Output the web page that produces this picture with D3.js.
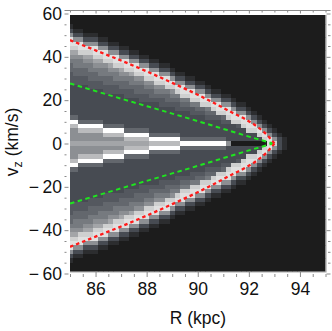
<!DOCTYPE html>
<html><head><meta charset="utf-8">
<script src="https://cdn.jsdelivr.net/npm/d3@7"></script>
<style>
html,body{margin:0;padding:0;background:#fff;}
svg{display:block;}
text{font-family:"Liberation Sans",Arial,sans-serif;}
</style>
</head><body>
<svg id="chart" width="332" height="331"></svg>
<script>
// ---------------- data ----------------
const xDomain = [85, 95];
const yDomain = [-60, 60];
const xMajorTicks = [86, 88, 90, 92, 94];
const yMajorTicks = [-60, -40, -20, 0, 20, 40, 60];
const yTickLabels = ["\u2212\u200960", "\u2212\u200940", "\u2212\u200920", "0", "20", "40", "60"];

// heat-map grid: column centres R (kpc), row centres vz (km/s)
const gridR = d3.range(0, 51).map(i => +(85 + 0.2 * i).toFixed(1));
const gridVUpper = d3.range(60, -1, -2);   // 60 ... 0
// grey level per cell, run-length coded per row (vz = 60 ... 0);
// cells not listed are background ('0'); the picture is mirror-symmetric about vz = 0
const rowsUpperRLE = [
  "", "", "",
  "1:1",
  "3:1 1:2",
  "7:1 3:2 1:3",
  "b:1 7:2 3:3 1:2",
  "b:3 7:3 3:2 1:2",
  "a:2 b:4 7:2 3:2 1:2",
  "8:2 a:3 b:3 7:2 3:2 1:2",
  "7:3 8:2 a:2 b:3 7:2 3:2 1:2",
  "6:3 7:2 8:2 a:2 b:3 7:2 3:2 1:2",
  "5:1 6:4 7:3 8:1 a:2 b:3 7:2 3:2 1:2",
  "5:4 6:4 7:2 8:1 a:2 b:3 7:2 3:2 1:1",
  "4:1 5:5 6:4 7:2 8:1 a:2 b:3 7:2 3:1 1:2",
  "4:4 5:5 6:4 7:2 a:2 b:3 7:1 3:2 1:2",
  "4:7 5:5 6:3 7:2 a:2 b:2 7:2 3:2 1:2",
  "3:4 4:6 5:5 6:2 7:2 a:2 b:2 7:2 3:2 1:1",
  "3:7 4:6 5:4 6:3 7:1 a:1 b:3 7:2 3:1 1:2",
  "3:11 4:5 5:4 6:2 a:2 b:3 7:1 3:2 1:2",
  "3:14 4:5 5:3 6:2 a:2 b:2 7:2 3:2 1:1",
  "3:18 4:4 5:2 6:2 a:2 b:2 7:2 3:1 1:2",
  "3:21 4:4 5:2 6:1 a:1 b:3 7:1 3:2 1:1",
  "3:24 4:3 5:2 a:2 b:2 7:2 3:1 1:1",
  "5:2 3:25 4:3 5:1 a:1 b:3 7:1 3:1 1:1",
  "d:2 5:5 3:23 4:2 a:2 b:2 7:1 3:1 1:1",
  "9:2 d:5 5:4 3:22 4:1 a:1 b:2 7:1 3:1 1:1",
  "7:2 9:5 d:4 5:5 3:19 a:2 b:1 7:1 3:1 1:1",
  "7:7 9:4 d:5 5:6 3:15 a:1 b:1 7:1 3:1 1:1",
  "7:11 9:5 d:6 5:9 3:7 a:1 b:1 7:1 3:1 1:1",
  "8:16 9:6 d:9 7:1 0:7 b:1 a:1 3:1 1:1"
];
const levelKeys   = ["0","1","2","3","4","5","6","7","8","9","a","b","c","d"];
const levelColors = ["#1c1c1c","#2c2d2f","#3a3c40","#474b52","#54585f","#63676d","#767a7f",
                     "#8c8f93","#a3a5a8","#babbbd","#cfd0d0","#e0e0e0","#f0f0f0","#ffffff"];

// dashed curves
const redUpperR   = [85, 86, 87, 88, 89, 90, 90.62, 91.36, 91.86, 92.36, 92.78, 93.0];
const redUpperV   = [47.7, 43.0, 38.3, 33.3, 28.0, 22.5, 18.8, 14.2, 11.2, 7.5, 3.1, 0];
const redLowerR   = [85, 86, 87, 88, 89, 90, 90.62, 91.36, 91.86, 92.36, 92.78, 93.0];
const redLowerV   = [-47.7, -43.0, -38.3, -33.3, -28.0, -22.5, -18.8, -14.2, -11.2, -7.5, -3.1, 0];
const greenUpperR = [85, 87, 89, 90.29, 91.15, 91.97, 92.95];
const greenUpperV = [27.7, 20.7, 13.8, 9.3, 6.2, 3.3, 0];
const greenLowerR = [85, 87, 89, 90.29, 91.15, 91.97, 92.95];
const greenLowerV = [-27.7, -20.7, -13.8, -9.3, -6.2, -3.3, 0];

// ---------------- drawing ----------------
const FS = 17.5;
const svg = d3.select("#chart");
const img = {x0: 70, x1: 325.5, y0: 15, y1: 271.5};
const frame = {x0: 64.5, x1: 330.5, y0: 10.5, y1: 277};
const x = d3.scaleLinear().domain(xDomain).range([70, 325.5]);
const y = d3.scaleLinear().domain(yDomain).range([273.5, 13.5]);
const color = d3.scaleOrdinal().domain(levelKeys).range(levelColors);

function decode(rle) {
  const out = [];
  if (rle) rle.split(" ").forEach(t => { const [ch, n] = t.split(":"); for (let i = 0; i < +n; i++) out.push(ch); });
  while (out.length < gridR.length) out.push("0");
  return out;
}
const upper = rowsUpperRLE.map(decode);
const rows = upper.concat(upper.slice(0, -1).reverse());
const gridV = gridVUpper.concat(gridVUpper.slice(0, -1).reverse().map(v => -v));

const cells = [];
rows.forEach((row, i) => row.forEach((lv, j) => cells.push({R: gridR[j], V: gridV[i], lv})));

svg.append("clipPath").attr("id", "imgclip").append("rect")
  .attr("x", img.x0).attr("y", img.y0).attr("width", img.x1 - img.x0).attr("height", img.y1 - img.y0);

const gImg = svg.append("g").attr("clip-path", "url(#imgclip)");
gImg.append("rect").attr("x", img.x0).attr("y", img.y0)
  .attr("width", img.x1 - img.x0).attr("height", img.y1 - img.y0).attr("fill", color("0"));
gImg.selectAll("rect.cell").data(cells).join("rect").attr("class", "cell")
  .attr("x", d => x(d.R - 0.1))
  .attr("width", d => x(d.R + 0.1) - x(d.R - 0.1) + 0.4)
  .attr("y", d => y(d.V + 1))
  .attr("height", d => y(d.V - 1) - y(d.V + 1) + 0.4)
  .attr("fill", d => color(d.lv))
  .attr("shape-rendering", "crispEdges");

const line = d3.line().x(d => x(d[0])).y(d => y(d[1])).curve(d3.curveMonotoneX);
function curve(R, V, col, dash, w) {
  gImg.append("path").datum(R.map((r, i) => [r, V[i]]))
    .attr("d", line).attr("fill", "none").attr("stroke", col)
    .attr("stroke-width", w).attr("stroke-dasharray", dash);
}
curve(greenUpperR, greenUpperV, "#1ee61e", "4.5,3.5", 2);
curve(greenLowerR, greenLowerV, "#1ee61e", "4.5,3.5", 2);
curve(redUpperR, redUpperV, "#ff1a1a", "3.5,3", 2.3);
curve(redLowerR, redLowerV, "#ff1a1a", "3.5,3", 2.3);

// image border (right, bottom)
svg.append("path").attr("d", `M${img.x1 + 0.5},${img.y0}V${img.y1 + 0.5}H${img.x0}`)
  .attr("fill", "none").attr("stroke", "#a8a8a8").attr("stroke-width", 1.2);

// frame top line
svg.append("line").attr("x1", frame.x0).attr("x2", frame.x1).attr("y1", frame.y0).attr("y2", frame.y0)
  .attr("stroke", "#8a8a8a").attr("stroke-width", 1);

const tickCol = "#8a8a8a";
const xMinor = d3.range(85, 95.01, 0.5).filter(v => !xMajorTicks.includes(v));
const yMinor = d3.range(-60, 60.01, 5).filter(v => !yMajorTicks.includes(v));

function styleAxis(g) {
  g.select(".domain").remove();
  g.selectAll(".tick line").attr("stroke", tickCol);
  g.selectAll("text").attr("font-size", FS).attr("fill", "#111")
    .attr("font-family", '"Liberation Sans",Arial,sans-serif');
}
// bottom
svg.append("g").attr("transform", `translate(0,${frame.y1})`)
  .call(d3.axisBottom(x).tickValues(xMajorTicks).tickSize(-5.5).tickPadding(6).tickFormat(d3.format("d")))
  .call(styleAxis);
svg.append("g").attr("transform", `translate(0,${frame.y1})`)
  .call(d3.axisBottom(x).tickValues(xMinor).tickSize(-3).tickFormat(""))
  .call(styleAxis);
// top
svg.append("g").attr("transform", `translate(0,${frame.y0})`)
  .call(d3.axisTop(x).tickValues(xMajorTicks).tickSize(-3).tickFormat(""))
  .call(styleAxis);
svg.append("g").attr("transform", `translate(0,${frame.y0})`)
  .call(d3.axisTop(x).tickValues(xMinor).tickSize(-2).tickFormat(""))
  .call(styleAxis);
// left
svg.append("g").attr("transform", `translate(${frame.x0},0)`)
  .call(d3.axisLeft(y).tickValues(yMajorTicks).tickSize(-4).tickPadding(2.5)
    .tickFormat((d, i) => yTickLabels[i]))
  .call(styleAxis);
svg.append("g").attr("transform", `translate(${frame.x0},0)`)
  .call(d3.axisLeft(y).tickValues(yMinor).tickSize(-2).tickFormat(""))
  .call(styleAxis);
// right
svg.append("g").attr("transform", `translate(${frame.x1},0)`)
  .call(d3.axisRight(y).tickValues(yMajorTicks).tickSize(-4).tickFormat(""))
  .call(styleAxis);
svg.append("g").attr("transform", `translate(${frame.x1},0)`)
  .call(d3.axisRight(y).tickValues(yMinor).tickSize(-2.5).tickFormat(""))
  .call(styleAxis);

// axis titles
svg.append("text").attr("x", 198).attr("y", 324).attr("text-anchor", "middle")
  .attr("font-size", FS).attr("fill", "#111").text("R (kpc)");
const yt = svg.append("text").attr("transform", "translate(17.5,142) rotate(-90)")
  .attr("text-anchor", "middle").attr("font-size", FS).attr("fill", "#111");
yt.append("tspan").text("v");
yt.append("tspan").attr("font-size", 12.5).attr("dy", 4.5).text("z");
yt.append("tspan").attr("dy", -4.5).text(" (km/s)");
</script>
</body></html>
